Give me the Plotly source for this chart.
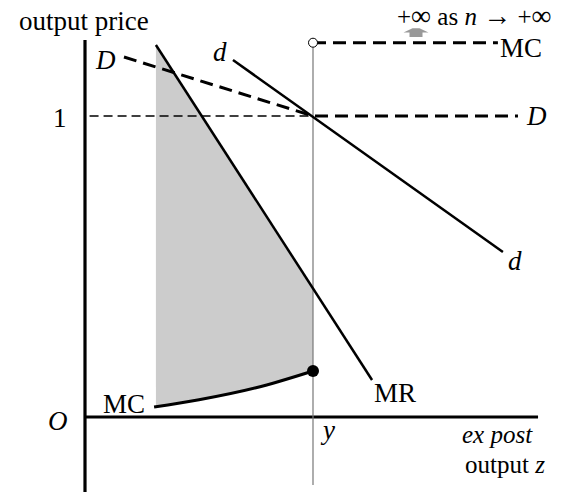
import numpy as np
import plotly.graph_objects as go

# ---- data (economic units: output z on x, price on y) ----
y_out = 1.0          # output level y
p_ref = 1.0          # price 1
mr_x = [0.311, 1.259]; mr_y = [1.236, 0.123]
d_x = [0.649, 1.833]; d_y = [1.186, 0.548]
D_x = [0.171, 1.0, 1.899]; D_y = [1.196, 1.0, 1.0]
mc_x = [0.303, 0.5, 0.75, 1.0]; mc_y = [0.033, 0.057, 0.097, 0.153]
mc_hi_x = [1.0, 1.811]; mc_hi_y = [1.2435, 1.2435]
shade_left = 0.311

fig = go.Figure()
SERIF = "Liberation Serif"
FS = 27

# shaded region between MC (below) and MR (above), from shade_left to y_out
sx = np.linspace(shade_left, y_out, 40)
bot = np.interp(sx, mc_x, mc_y)
top = np.interp(sx, mr_x, mr_y)
fig.add_trace(go.Scatter(x=list(sx) + list(sx[::-1]), y=list(bot) + list(top[::-1]),
                         fill="toself", fillcolor="#cccccc", line=dict(width=0),
                         mode="lines", hoverinfo="skip"))

# axes
fig.add_trace(go.Scatter(x=[0, 0], y=[-0.249, 1.2525], mode="lines",
                         line=dict(color="black", width=3.2)))
fig.add_trace(go.Scatter(x=[0, 1.987], y=[0, 0], mode="lines",
                         line=dict(color="black", width=3.2)))
# thin vertical at y
fig.add_trace(go.Scatter(x=[y_out, y_out], y=[-0.226, mc_hi_y[0]], mode="lines",
                         line=dict(color="#777777", width=1.2)))
# thin dashed at price 1
fig.add_trace(go.Scatter(x=[0.02, y_out], y=[p_ref, p_ref], mode="lines",
                         line=dict(color="black", width=1.3, dash="9px,5px")))
# D (dashed thick)
fig.add_trace(go.Scatter(x=D_x, y=D_y, mode="lines",
                         line=dict(color="black", width=3, dash="13px,7px")))
# upper MC dashed
fig.add_trace(go.Scatter(x=mc_hi_x, y=mc_hi_y, mode="lines",
                         line=dict(color="black", width=3, dash="13px,7px")))
# d
fig.add_trace(go.Scatter(x=d_x, y=d_y, mode="lines", line=dict(color="black", width=2.5)))
# MR
fig.add_trace(go.Scatter(x=mr_x, y=mr_y, mode="lines", line=dict(color="black", width=2.5)))
# MC curve
fig.add_trace(go.Scatter(x=mc_x, y=mc_y, mode="lines", line=dict(color="black", width=3),
                         line_shape="spline"))
# markers
fig.add_trace(go.Scatter(x=[mc_hi_x[0]], y=[mc_hi_y[0]], mode="markers",
                         marker=dict(size=9, color="white", line=dict(color="black", width=1))))
fig.add_trace(go.Scatter(x=[mc_x[-1]], y=[mc_y[-1]], mode="markers",
                         marker=dict(size=12, color="black")))

def txt(x, y, s, size=FS, italic=False, xanchor="center"):
    fig.add_annotation(x=x, y=y, text=s, showarrow=False, xanchor=xanchor, yanchor="middle",
                       font=dict(family=SERIF, size=size, color="black",
                                 style="italic" if italic else "normal"))

X = lambda px: (px - 85) / 228
Y = lambda py: (417 - py) / 301

txt(X(84), Y(21), "output price")
txt(X(60), Y(118), "1")
txt(X(58), Y(421), "O", italic=True)
txt(X(105), Y(60), "D", italic=True)
txt(X(536), Y(116), "D", italic=True)
txt(X(220), Y(52), "d", italic=True)
txt(X(515), Y(261), "d", italic=True)
txt(X(521), Y(48), "MC")
txt(X(124), Y(404), "MC")
txt(X(395), Y(393), "MR")
txt(X(327), Y(430), "y", italic=True)
txt(X(497), Y(434), "ex post", size=25, italic=True)
txt(X(505), Y(464), "output <i>z</i>", size=25)
big = '<span style="font-size:28px">{}</span>'
txt(X(474), Y(15), "+" + big.format("∞") + "\u00a0as\u00a0<i>n</i>\u00a0" + big.format("→")
    + "\u00a0+" + big.format("∞"), size=25)

# gray fat arrow (pixel-sized shape anchored in data coords)
fig.add_shape(type="path", xref="x", yref="y", xsizemode="pixel", ysizemode="pixel",
              xanchor=X(416), yanchor=Y(37),
              path="M -6.5,0 L 6.5,0 L 6.5,4.5 L 12.5,4.5 L 3.5,8.7 L -3.5,8.7 L -12.5,4.5 L -6.5,4.5 Z",
              fillcolor="#999999", line=dict(width=0))

fig.update_layout(width=571, height=494, margin=dict(l=0, r=0, t=0, b=0),
                  plot_bgcolor="white", paper_bgcolor="white", showlegend=False,
                  xaxis=dict(range=[-85 / 228, 486 / 228], visible=False, fixedrange=True),
                  yaxis=dict(range=[(417 - 494) / 301, 417 / 301], visible=False, fixedrange=True))
fig.write_html("out.html", config={"displayModeBar": False},
               post_script="document.body.style.margin='0px';document.body.style.overflow='hidden';")
